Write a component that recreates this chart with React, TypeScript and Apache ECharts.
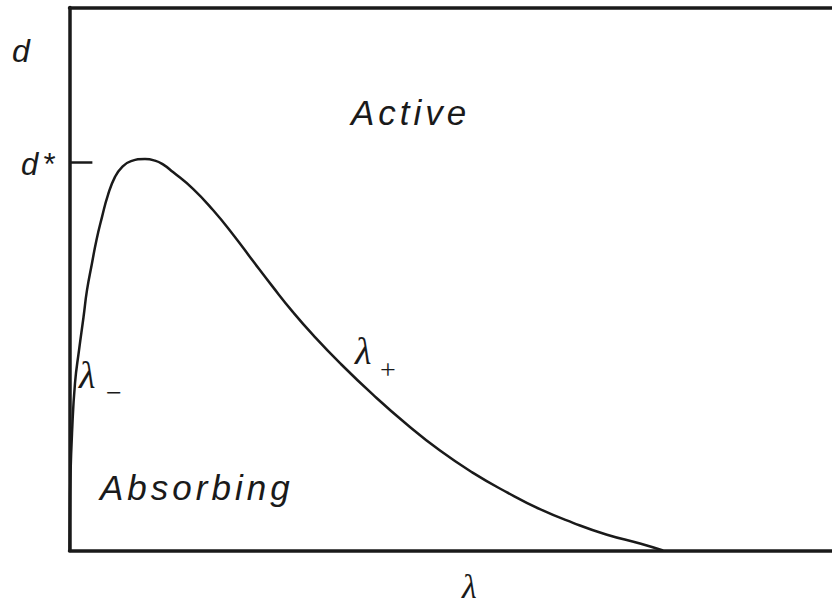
import React, { useEffect, useRef } from "react";
import * as echarts from "echarts";

// curve d(λ): boundary between the absorbing and active phases
const LAMBDA = [0, 0.0004, 0.001, 0.0033, 0.0072, 0.0125, 0.0184, 0.023, 0.0295, 0.0354, 0.0426, 0.0505, 0.0597, 0.0689, 0.0807, 0.099, 0.1121, 0.1226, 0.1357, 0.162, 0.1882, 0.2144, 0.2407, 0.2669, 0.2931, 0.3193, 0.3548, 0.398, 0.4426, 0.4859, 0.5292, 0.5738, 0.617, 0.6603, 0.7049, 0.7482, 0.7784];
const D = [0, 0.06, 0.124, 0.216, 0.308, 0.369, 0.43, 0.48, 0.529, 0.572, 0.614, 0.655, 0.688, 0.706, 0.717, 0.721, 0.718, 0.711, 0.697, 0.666, 0.627, 0.582, 0.533, 0.485, 0.439, 0.397, 0.345, 0.287, 0.232, 0.184, 0.143, 0.107, 0.076, 0.051, 0.029, 0.013, 0];
const D_STAR = 0.715;
const TICK_END = 0.03;

const X_MIN = 0;
const X_MAX = 1;
const Y_MIN = 0;
const Y_MAX = 1;

const INK = "#1a1a1a";
const SANS = "'Liberation Sans', Arial, sans-serif";
const SERIF = "'Liberation Serif', 'Times New Roman', serif";

export default function App() {
  const ref = useRef<HTMLDivElement>(null);
  useEffect(() => {
    if (!ref.current) return;
    const chart = echarts.init(ref.current, undefined, { renderer: "svg" });
    const axisLine = { show: true, lineStyle: { color: INK, width: 3.5 } };
    const hidden = {
      axisTick: { show: false },
      axisLabel: { show: false },
      splitLine: { show: false },
    };
    const sansText = (text: string, x: number, y: number, size: number) => ({
      type: "text",
      x,
      y,
      silent: true,
      style: {
        text,
        fill: INK,
        font: `italic ${size}px ${SANS}`,
        textAlign: "left",
        textVerticalAlign: "middle",
      },
    });
    const serifText = (text: string, x: number, y: number, size: number, italic = true) => ({
      type: "text",
      x,
      y,
      silent: true,
      style: {
        text,
        fill: INK,
        font: `${italic ? "italic " : ""}${size}px ${SERIF}`,
        textAlign: "left",
        textVerticalAlign: "middle",
      },
    });
    chart.setOption({
      animation: false,
      backgroundColor: "#ffffff",
      grid: { left: 69.5, right: 0, top: 7.5, bottom: 52.5 },
      xAxis: [
        { type: "value", min: X_MIN, max: X_MAX, position: "bottom", axisLine, ...hidden },
        { type: "value", min: X_MIN, max: X_MAX, position: "top", axisLine, ...hidden },
      ],
      yAxis: { type: "value", min: Y_MIN, max: Y_MAX, axisLine, ...hidden },
      series: [
        {
          type: "line",
          data: LAMBDA.map((l, i) => [l, D[i]]),
          smooth: 0.5,
          showSymbol: false,
          silent: true,
          clip: true,
          lineStyle: { color: INK, width: 2.5 },
          markLine: {
            silent: true,
            symbol: "none",
            label: { show: false },
            lineStyle: { color: INK, width: 2.5, type: "solid" },
            data: [[{ coord: [0, D_STAR] }, { coord: [TICK_END, D_STAR] }]],
          },
        },
      ],
      graphic: [
        sansText("d", 12, 51, 32),
        sansText("d*", 21, 164, 31),
        sansText("Active", 351, 112, 35),
        sansText("Absorbing", 100, 487, 35),
        serifText("λ", 79, 375, 38),
        serifText("−", 106, 392, 28, false),
        serifText("λ", 355, 351, 38),
        serifText("+", 380, 369, 28, false),
        serifText("λ", 462, 586, 34),
      ],
    });
    return () => chart.dispose();
  }, []);
  return (
    <>
      <style>{"#chart-box text { letter-spacing: 4px; }"}</style>
      <div
        id="chart-box"
        ref={ref}
        style={{ position: "absolute", left: 0, top: 0, width: 832, height: 603 }}
      />
    </>
  );
}
